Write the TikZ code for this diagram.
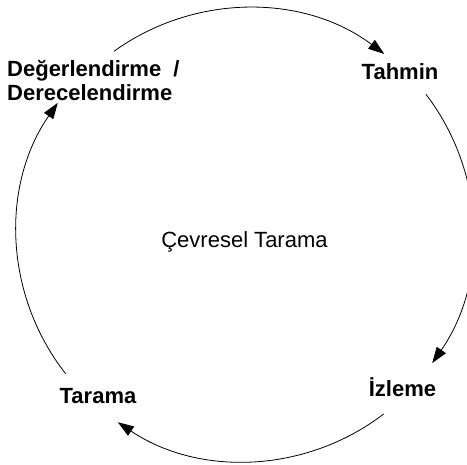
\documentclass[tikz,border=0pt]{standalone}
\usepackage{fontspec}
\setmainfont{Liberation Sans}
\usetikzlibrary{arrows.meta}
\definecolor{CycleInk}{HTML}{000000}
\tikzset{
  every node/.style={font=\fontsize{22}{24}\selectfont, text=CycleInk, inner sep=0pt},
  stage/.style={font=\fontsize{22}{24}\selectfont\bfseries},
  hub/.style={font=\fontsize{22}{24}\selectfont},
  cycle/.style={-{Triangle[length=16pt,width=11pt]}, draw=CycleInk, line width=0.8pt},
}

\begin{document}
\begin{tikzpicture}[x=1pt,y=1pt]
  \useasboundingbox (0,0) rectangle (467,465);
  \clip (0,0) rectangle (467,465);
  \coordinate (ring) at (245,232);
  % stages round the ring
  \node[stage, align=left, anchor=base west] (eval) at (7,364) {Değerlendirme \ /\\Derecelendirme};
  \node[stage, anchor=base] (forecast) at (400,385) {Tahmin};
  \node[stage, anchor=base] (monitor) at (402.5,68) {İzleme};
  \node[stage, anchor=base] (scan) at (98,61) {Tarama};
  \node[hub, anchor=base] (centre) at (244.5,217) {Çevresel Tarama};
  % arcs, clockwise
  \draw[cycle] ([shift={(125.8:224)}]ring) arc[start angle=125.8, end angle=53.1, radius=228];
  \draw[cycle] ([shift={(37.5:228)}]ring) arc[start angle=37.5, end angle=-34.8, radius=228];
  \draw[cycle] ([shift={(-52.5:228)}]ring) arc[start angle=-52.5, end angle=-123.9, radius=228];
  \draw[cycle] ([shift={(218.1:228)}]ring) arc[start angle=218.1, end angle=145.2, radius=228];
\end{tikzpicture}
\end{document}
